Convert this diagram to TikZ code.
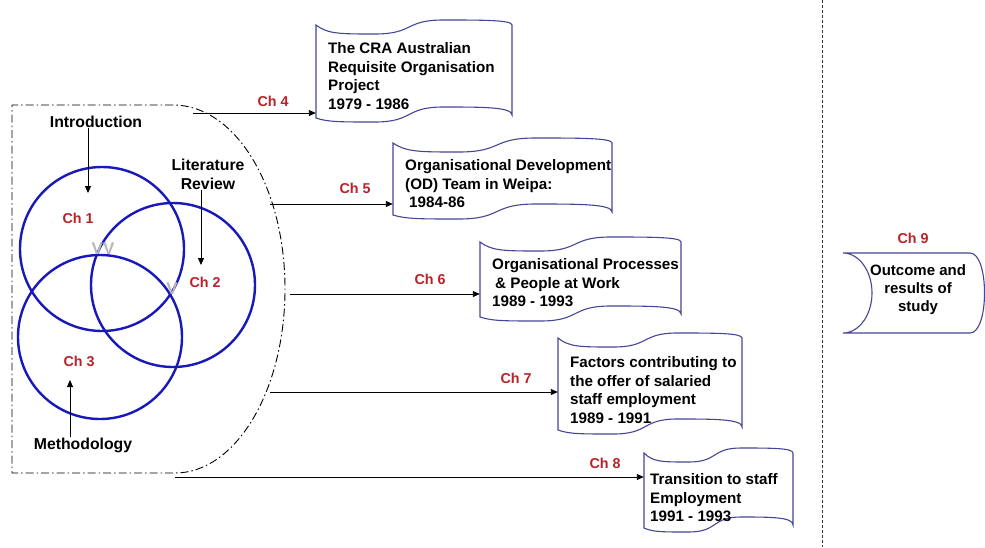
\documentclass[tikz,border=0pt]{standalone}
\usepackage{fontspec}
\setmainfont{Liberation Sans}
\usetikzlibrary{arrows.meta}
\definecolor{vblue}{RGB}{25,25,185}
\definecolor{chred}{RGB}{185,35,40}
\definecolor{docline}{RGB}{70,70,150}
\tikzset{
  docstyle/.style={draw=docline, line width=1.1pt},
  docbox/.style={draw=none, rectangle, inner sep=0pt},
  doctext/.style={anchor=west, align=left, inner sep=0pt, font=\fontsize{15.2}{18.5}\selectfont\bfseries},
  lbl/.style={inner sep=0pt, font=\fontsize{15.8}{19}\selectfont\bfseries, align=center},
  chlbl/.style={inner sep=0pt, text=chred, font=\fontsize{14.3}{16}\selectfont\bfseries},
  vmark/.style={inner sep=0pt, text=black!28, font=\fontsize{17}{18}\selectfont\bfseries},
  venn/.style={draw=vblue, line width=2.4pt},
  arr/.style={draw=black, line width=0.9pt, -{Triangle[length=7pt,width=6pt]}},
  bound/.style={draw=black, line width=0.9pt, dash pattern=on 8pt off 3pt on 1.5pt off 3pt},
  sep/.style={draw=black!80, line width=1pt, dash pattern=on 3pt off 2pt}
}
\newcommand{\tapepath}[4]{%
  \pgfmathsetmacro\tapew{#3-#1}%
  \draw[docstyle] (#1,#2)
    .. controls ({#1+.06*\tapew},{#2+9}) and ({#1+.12*\tapew},{#2+9}) .. ({#1+.3*\tapew},{#2+9})
    .. controls ({#1+.5*\tapew},{#2+9}) and ({#1+.45*\tapew},{#2-5}) .. ({#1+.65*\tapew},{#2-5})
    .. controls ({#1+.85*\tapew},{#2-5}) and (#3,{#2-5}) .. (#3,#2)
    -- (#3,{#4-3})
    .. controls (#3,{#4-11}) and ({#1+.85*\tapew},{#4-11}) .. ({#1+.65*\tapew},{#4-11})
    .. controls ({#1+.45*\tapew},{#4-11}) and ({#1+.5*\tapew},{#4+4}) .. ({#1+.3*\tapew},{#4+4})
    .. controls ({#1+.12*\tapew},{#4+4}) and ({#1+.06*\tapew},{#4+4}) .. (#1,#4)
    -- cycle;}
\begin{document}
\begin{tikzpicture}[x=1pt,y=-1pt]
\useasboundingbox[fill=white] (0,0) rectangle (985,547);

% separator
\draw[sep] (822,0) -- (822,547);

% boundary of chapters 1-3
\draw[bound] (173,105) -- (12,105) -- (12,473) -- (175,473)
  .. controls (235.8,473) and (285,390.6) .. (285,289)
  .. controls (285,187.4) and (235.8,105) .. (173,105);

% venn circles
\draw[venn] (102,249) circle[radius=82pt];
\draw[venn] (173,285) circle[radius=82pt];
\draw[venn] (100,337) circle[radius=82pt];

\node[vmark] (vv) at (103,249) {VV};
\node[vmark] (v) at (172,289) {V};

\node[chlbl] (c1) at (78,218) {Ch 1};
\node[chlbl] (c2) at (205,282) {Ch 2};
\node[chlbl] (c3) at (79,361) {Ch 3};

\node[lbl] (intro) at (96,122) {Introduction};
\node[lbl] (lit) at (208,174) {Literature\\Review};
\node[lbl] (meth) at (83,445) {Methodology};

\coordinate (ia) at (88,193);
\coordinate (la) at (201,265);
\coordinate (ma) at (70,380);
\draw[arr] (intro.south -| ia) -- (ia);
\draw[arr] (lit.south -| la) -- (la);
\draw[arr] (meth.north -| ma) -- (ma);

% documents
\tapepath{316}{25}{512}{118}
\node[docbox, minimum width=196pt, minimum height=93pt] (d1) at (414,71.5) {};
\node[doctext] (t1) at (328,76) {The CRA Australian\\Requisite Organisation\\Project\\1979 - 1986};

\tapepath{393}{143}{612}{215}
\node[docbox, minimum width=219pt, minimum height=72pt] (d2) at (502.5,179) {};
\node[doctext] (t2) at (405,184) {Organisational Development\\(OD) Team in Weipa:\\\hspace*{4pt}1984-86};

\tapepath{480}{242}{681}{317}
\node[docbox, minimum width=201pt, minimum height=75pt] (d3) at (580.5,279.5) {};
\node[doctext] (t3) at (492,283) {Organisational Processes\\\hspace*{3pt}\& People at Work\\1989 - 1993};

\tapepath{558}{338}{742}{430}
\node[docbox, minimum width=184pt, minimum height=92pt] (d4) at (650,384) {};
\node[doctext] (t4) at (570,390) {Factors contributing to\\the offer of salaried\\staff employment\\1989 - 1991};

\tapepath{644}{453}{793}{528}
\node[docbox, minimum width=149pt, minimum height=75pt] (d5) at (718.5,490.5) {};
\node[doctext] (t5) at (650,498) {Transition to staff\\Employment\\1991 - 1993};

% connectors
\coordinate (s4) at (193,113);
\coordinate (s5) at (270,204);
\coordinate (s6) at (290,294);
\coordinate (s7) at (270,392);
\coordinate (s8) at (175,477);
\draw[arr] (s4) -- (s4 -| d1.west);
\draw[arr] (s5) -- (s5 -| d2.west);
\draw[arr] (s6) -- (s6 -| d3.west);
\draw[arr] (s7) -- (s7 -| d4.west);
\draw[arr] (s8) -- (s8 -| d5.west);

\node[chlbl] (l4) at (273,101) {Ch 4};
\node[chlbl] (l5) at (355,188) {Ch 5};
\node[chlbl] (l6) at (430,279) {Ch 6};
\node[chlbl] (l7) at (516,378) {Ch 7};
\node[chlbl] (l8) at (605,463) {Ch 8};

% Ch 9 outcome
\draw[docstyle] (843,253) -- (970,253)
  .. controls (979,253) and (984.5,271) .. (984.5,293)
  .. controls (984.5,315) and (979,333) .. (970,333) -- (843,333)
  .. controls (859,333) and (872,315) .. (872,293)
  .. controls (872,271) and (859,253) .. (843,253) -- cycle;
\node[docbox, minimum width=141pt, minimum height=80pt] (d9) at (914,293) {};
\node[lbl, font=\fontsize{15}{18}\selectfont\bfseries] (t9) at (918,290) {Outcome and\\results of\\study};
\node[chlbl] (l9) at (913,238) {Ch 9};
\end{tikzpicture}
\end{document}
